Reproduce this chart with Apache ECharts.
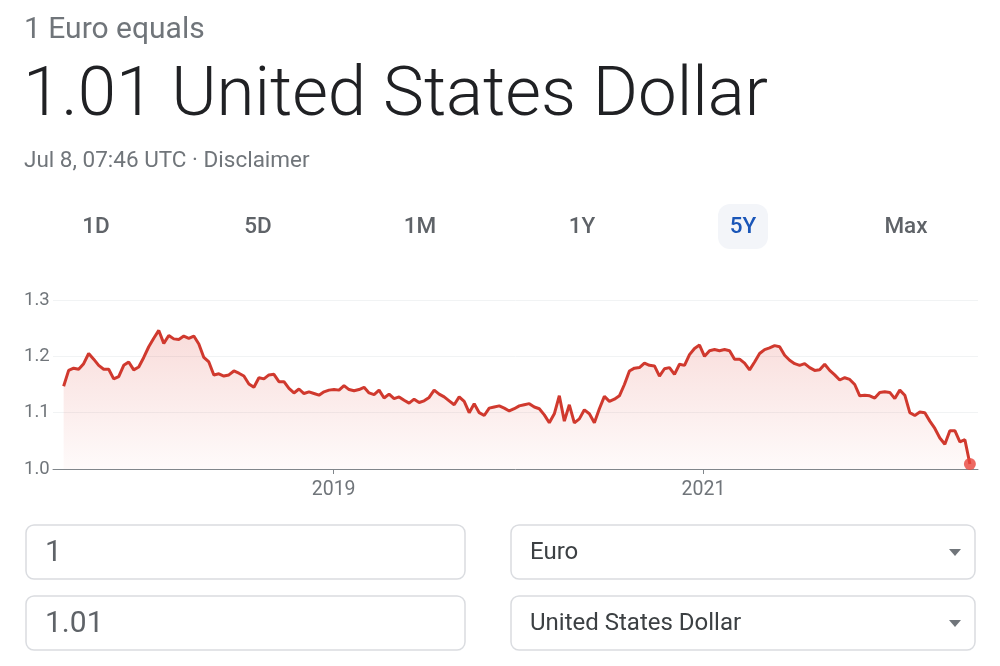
<!DOCTYPE html>
<html>
<head>
<meta charset="utf-8">
<title>1 Euro equals 1.01 United States Dollar</title>
<script src="https://cdn.jsdelivr.net/npm/echarts@6/dist/echarts.min.js"></script>
<style>
  html, body { margin: 0; padding: 0; background: #fff; }
  #chart { width: 1000px; height: 666px; }
</style>
</head>
<body>
<div id="chart"></div>
<script>
// EUR -> USD, 5Y range, roughly every 10 days
var firstDate = '2017-07-17';
var lastDate = '2022-06-11';
var axisStart = '2017-06-26';
var axisEnd = '2022-06-27';
var rates = [
  1.147, 1.175, 1.179, 1.177, 1.187, 1.205, 1.195, 1.184, 1.177, 1.177,
  1.160, 1.164, 1.184, 1.190, 1.176, 1.181, 1.198, 1.217, 1.232, 1.246,
  1.223, 1.237, 1.231, 1.230, 1.236, 1.232, 1.236, 1.222, 1.198, 1.190,
  1.167, 1.169, 1.165, 1.167, 1.174, 1.170, 1.165, 1.151, 1.145, 1.162,
  1.160, 1.167, 1.168, 1.155, 1.155, 1.143, 1.135, 1.142, 1.134, 1.137,
  1.134, 1.131, 1.137, 1.140, 1.141, 1.140, 1.148, 1.141, 1.139, 1.141,
  1.145, 1.135, 1.132, 1.140, 1.126, 1.133, 1.125, 1.128, 1.122, 1.117,
  1.124, 1.118, 1.121, 1.127, 1.140, 1.133, 1.128, 1.121, 1.114, 1.128,
  1.120, 1.100, 1.116, 1.100, 1.095, 1.108, 1.110, 1.112, 1.108, 1.103,
  1.107, 1.112, 1.114, 1.116, 1.110, 1.107, 1.096, 1.082, 1.098, 1.130,
  1.085, 1.114, 1.082, 1.089, 1.105, 1.098, 1.082, 1.107, 1.129, 1.120,
  1.124, 1.130, 1.150, 1.174, 1.179, 1.180, 1.188, 1.184, 1.183, 1.165,
  1.178, 1.180, 1.168, 1.186, 1.184, 1.203, 1.214, 1.220, 1.200, 1.210,
  1.212, 1.210, 1.212, 1.210, 1.195, 1.195, 1.188, 1.176, 1.190, 1.205,
  1.212, 1.215, 1.219, 1.217, 1.202, 1.193, 1.187, 1.184, 1.187, 1.180,
  1.175, 1.176, 1.186, 1.175, 1.167, 1.158, 1.162, 1.159, 1.150, 1.130,
  1.131, 1.130, 1.126, 1.136, 1.137, 1.136, 1.125, 1.140, 1.131, 1.100,
  1.095, 1.101, 1.100, 1.085, 1.072, 1.055, 1.044, 1.068, 1.068, 1.048,
  1.052, 1.009
];
var yTicks = [1.0, 1.1, 1.2, 1.3];
var yearLabels = [2019, 2021];
var ranges = ['1D', '5D', '1M', '1Y', '5Y', 'Max'];
var activeRange = '5Y';

// dates as fractional years so the x axis can be a plain value axis
function toYear(s) {
  var d = new Date(s + 'T00:00:00Z');
  var y = d.getUTCFullYear();
  var a = Date.UTC(y, 0, 1), b = Date.UTC(y + 1, 0, 1);
  return y + (d.getTime() - a) / (b - a);
}
var x0 = toYear(firstDate);
var x1 = toYear(lastDate);
var step = (x1 - x0) / (rates.length - 1);
var seriesData = rates.map(function (v, i) {
  return [x0 + i * step, v];
});
var lastPoint = seriesData[seriesData.length - 1];

var grey = '#70757a';
var dark = '#202124';

// header, range buttons and the converter boxes
var graphics = [
  { type: 'text', style: { x: 24, y: 30, text: '1 Euro equals', font: '30px Roboto', fill: grey, verticalAlign: 'middle' } },
  { type: 'text', style: { x: 23, y: 98, text: '1.01 United States Dollar', font: '300 69px Roboto', fill: dark, verticalAlign: 'middle' } },
  { type: 'text', style: { x: 24, y: 161, text: 'Jul 8, 07:46 UTC \u00b7 Disclaimer', font: '22.5px Roboto', fill: grey, verticalAlign: 'middle' } }
];
var rangeX = [96, 258, 420, 582, 743, 906];
ranges.forEach(function (r, i) {
  if (r === activeRange) {
    graphics.push({ type: 'rect', shape: { x: rangeX[i] - 25, y: 204, width: 50, height: 45, r: 12 }, style: { fill: '#f3f5f9' } });
  }
  graphics.push({
    type: 'text',
    style: {
      x: rangeX[i], y: 227, text: r,
      font: '500 22.5px Roboto',
      fill: r === activeRange ? '#1a56b8' : '#5f6368',
      align: 'center', verticalAlign: 'middle'
    }
  });
});
var boxes = [
  { x: 26, y: 525, w: 439, text: '1', size: 30, color: '#5f6368', arrow: false },
  { x: 511, y: 525, w: 464, text: 'Euro', size: 24, color: '#3c4043', arrow: true },
  { x: 26, y: 596, w: 439, text: '1.01', size: 30, color: '#5f6368', arrow: false },
  { x: 511, y: 596, w: 464, text: 'United States Dollar', size: 24, color: '#3c4043', arrow: true }
];
boxes.forEach(function (b) {
  graphics.push({ type: 'rect', shape: { x: b.x, y: b.y, width: b.w, height: 54, r: 8 }, style: { fill: '#fff', stroke: '#dadce0', lineWidth: 1.5 } });
  graphics.push({ type: 'text', style: { x: b.x + 19, y: b.y + 28, text: b.text, font: b.size + 'px Roboto', fill: b.color, verticalAlign: 'middle' } });
  if (b.arrow) {
    var ax = b.x + b.w - 20, ay = b.y + 27;
    graphics.push({ type: 'polygon', shape: { points: [[ax - 6, ay - 3], [ax + 6, ay - 3], [ax, ay + 4]] }, style: { fill: grey } });
  }
});

var chart = echarts.init(document.getElementById('chart'));
chart.setOption({
  animation: false,
  backgroundColor: '#fff',
  textStyle: { fontFamily: 'Roboto' },
  graphic: graphics,
  grid: { left: 53, right: 22, top: 300, bottom: 197 },
  xAxis: {
    type: 'value',
    min: toYear(axisStart),
    max: toYear(axisEnd),
    axisLine: { onZero: false, lineStyle: { color: '#80868b', width: 1 } },
    axisTick: { show: true, length: 5, lineStyle: { color: '#80868b' }, customValues: yearLabels },
    axisLabel: {
      color: grey, fontSize: 19.5, margin: 11,
      customValues: yearLabels,
      formatter: function (v) { return String(Math.round(v)); }
    },
    splitLine: { show: false }
  },
  yAxis: {
    type: 'value',
    min: yTicks[0],
    max: yTicks[yTicks.length - 1],
    interval: 0.1,
    axisLine: { show: false },
    axisTick: { show: false },
    axisLabel: {
      color: grey, fontSize: 18.5, align: 'left', margin: 29,
      formatter: function (v) { return v.toFixed(1); }
    },
    splitLine: { lineStyle: { color: '#f1f3f4', width: 1 } }
  },
  series: [
    {
      type: 'line',
      data: seriesData,
      showSymbol: false,
      lineStyle: { color: '#d0392e', width: 3 },
      areaStyle: {
        color: new echarts.graphic.LinearGradient(0, 0, 0, 1, [
          { offset: 0, color: 'rgba(217,48,37,0.24)' },
          { offset: 1, color: 'rgba(217,48,37,0.03)' }
        ])
      }
    },
    {
      type: 'scatter',
      data: [lastPoint],
      symbolSize: 12,
      itemStyle: { color: '#e8453c' },
      z: 5
    }
  ]
});
</script>
</body>
</html>
